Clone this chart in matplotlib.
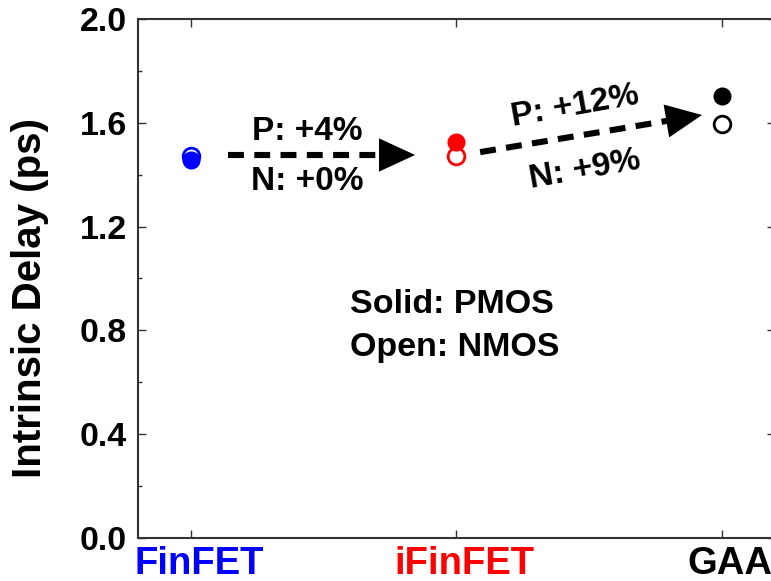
import matplotlib
matplotlib.use("Agg")
import matplotlib.pyplot as plt
import matplotlib.transforms as mtransforms
from matplotlib.patches import FancyArrowPatch
from matplotlib.ticker import MultipleLocator

plt.rcParams['font.family'] = ['Liberation Sans', 'DejaVu Sans']
plt.rcParams['font.weight'] = 'bold'

# Device architectures and their intrinsic delays (ps)
devices = ["FinFET", "iFinFET", "GAA"]
device_colors = ["#0000FF", "#FF0000", "#000000"]
pmos_delay = [1.455, 1.527, 1.703]   # solid markers
nmos_delay = [1.472, 1.472, 1.595]   # open markers

# Percent-change annotations between neighbouring architectures
step_labels_p = ["P: +4%", "P: +12%"]
step_labels_n = ["N: +0%", "N: +9%"]

fig = plt.figure(figsize=(7.71, 5.81), dpi=100)
ax = fig.add_axes([138 / 771, 43 / 581, (775 - 138) / 771, (538 - 19) / 581])

xs = [1, 2, 3]
for x, c, p, n in zip(xs, device_colors, pmos_delay, nmos_delay):
    ax.plot(x, n, 'o', ms=12, mfc='white', mec=c, mew=2.0, zorder=3)
    ax.plot(x, p, 'o', ms=13, mfc=c, mec=c, mew=0, zorder=4)

# Dashed arrows linking the architectures
arrows = [((1.139, 1.476), (1.844, 1.476)),
          ((2.089, 1.487), (2.925, 1.630))]
for (x0, y0), (x1, y1) in arrows:
    f = 0.87
    ax.plot([x0, x0 + f * (x1 - x0)], [y0, y0 + f * (y1 - y0)], color='k',
            lw=4.4, linestyle=(0, (2.6, 1.7)), solid_capstyle='butt',
            dash_capstyle='butt', zorder=2)
    head = FancyArrowPatch((x0, y0), (x1, y1),
                           arrowstyle='-|>,head_length=26,head_width=12',
                           mutation_scale=1, lw=0, color='k',
                           shrinkA=0, shrinkB=0, zorder=2)
    ax.add_patch(head)

fs_note = 24
ax.text(1.437, 1.534, step_labels_p[0], ha='center', va='baseline',
        fontsize=fs_note, fontweight='bold')
ax.text(1.437, 1.341, step_labels_n[0], ha='center', va='baseline',
        fontsize=fs_note, fontweight='bold')
ax.text(2.446, 1.662, step_labels_p[1], ha='center', va='center',
        fontsize=fs_note, fontweight='bold', rotation=10, rotation_mode='anchor')
ax.text(2.484, 1.418, step_labels_n[1], ha='center', va='center',
        fontsize=fs_note, fontweight='bold', rotation=10, rotation_mode='anchor')

ax.text(1.600, 0.868, "Solid: PMOS", ha='left', va='baseline',
        fontsize=24.5, fontweight='bold')
ax.text(1.600, 0.700, "Open: NMOS", ha='left', va='baseline',
        fontsize=24.5, fontweight='bold')

ax.set_xlim(0.8, 3.2)
ax.set_ylim(0.0, 2.0)
ax.set_xticks(xs)
ax.set_xticklabels(devices, fontsize=27.5, fontweight='bold')
ax.yaxis.set_minor_locator(MultipleLocator(0.2))
yticks = [0.0, 0.4, 0.8, 1.2, 1.6, 2.0]
ax.set_yticks(yticks)
ax.set_yticklabels([f"{v:.1f}" for v in yticks], fontsize=24.5,
                   fontweight='bold')

ax.tick_params(which='both', direction='in', top=True, right=True,
               width=1.0, color='#333333')
ax.tick_params(which='major', length=6)
ax.tick_params(which='minor', length=3)
ax.tick_params(axis='y', pad=8)
ax.tick_params(axis='x', pad=6)

# Category labels sit a little to the right of their ticks
shift = mtransforms.ScaledTranslation(8 / 100, 0, fig.dpi_scale_trans)
for tick, c in zip(ax.xaxis.get_major_ticks(), device_colors):
    tick.label1.set_color(c)
    tick.label1.set_transform(tick.label1.get_transform() + shift)

for sp in ax.spines.values():
    sp.set_linewidth(1.5)
    sp.set_color('#333333')

ax.set_ylabel("Intrinsic Delay (ps)", fontsize=29, fontweight='bold')
ax.yaxis.set_label_coords(-0.14, 0.463)

fig.savefig("out.png", dpi=100, facecolor='white')
